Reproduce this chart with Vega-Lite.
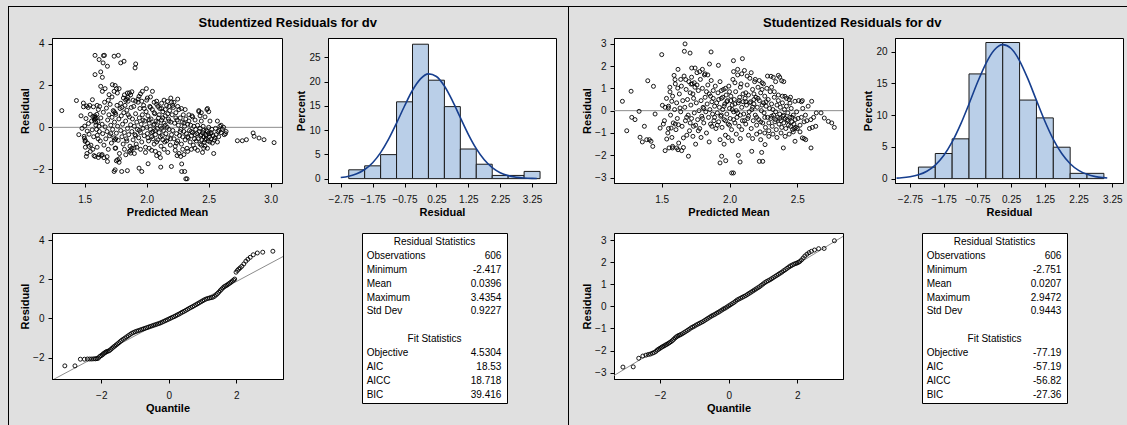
{
  "$schema": "https://vega.github.io/schema/vega-lite/v6.json",
  "background": "#e0e0e0",
  "padding": {"left": 8, "top": 6, "right": 0, "bottom": 0},
  "config": {
    "font": "Liberation Sans",
    "view": {"stroke": "#000", "strokeWidth": 1, "fill": "#fff"},
    "axis": {"grid": false, "domainColor": "#000", "tickColor": "#000", "tickSize": 4, "labelFont": "Liberation Sans", "labelFontSize": 10, "labelColor": "#111", "titleFont": "Liberation Sans", "titleFontSize": 11, "titleFontWeight": "bold", "titleColor": "#000", "labelPadding": 4, "titlePadding": 2, "labelOverlap": false},
    "axisX": {"labelPadding": 7, "titlePadding": 2},
    "title": {"font": "Liberation Sans", "fontSize": 13, "fontWeight": "bold", "color": "#000", "anchor": "middle", "offset": 8}
  },
  "datasets": {
    "fitL": [
      {"m":1.583,"r":3.44},{"m":1.616,"r":3.24},{"m":1.651,"r":3.43},{"m":1.659,"r":3.44},{"m":1.648,"r":3.08},{"m":1.683,"r":2.92},{"m":1.737,"r":3.40},{"m":1.771,"r":3.44},{"m":1.790,"r":3.08},{"m":1.817,"r":3.16},{"m":1.911,"r":3.03},{"m":1.906,"r":2.84},{"m":1.629,"r":2.65},{"m":1.583,"r":2.52},{"m":1.642,"r":2.39},{"m":1.629,"r":1.96},{"m":1.642,"r":1.72},{"m":1.664,"r":1.85},{"m":1.723,"r":2.04},{"m":1.745,"r":2.0},{"m":1.756,"r":1.85},{"m":1.777,"r":1.85},{"m":1.737,"r":1.72},{"m":1.696,"r":1.56},{"m":1.763,"r":1.64},{"m":1.844,"r":1.64},{"m":1.849,"r":1.44},{"m":1.812,"r":1.40},{"m":1.965,"r":1.72},{"m":1.997,"r":1.85},{"m":2.046,"r":1.72},{"m":1.938,"r":1.48},{"m":2.005,"r":1.40},{"m":1.433,"r":1.28},{"m":1.489,"r":1.16},{"m":1.562,"r":1.32},{"m":2.194,"r":1.40},{"m":2.167,"r":1.24},{"m":1.315,"r":0.80},
      {"m":2.731,"r":-0.64},{"m":2.771,"r":-0.64},{"m":2.804,"r":-0.59},{"m":2.858,"r":-0.27},{"m":2.866,"r":-0.43},{"m":2.906,"r":-0.51},{"m":2.946,"r":-0.59},{"m":3.027,"r":-0.73},
      {"m":2.315,"r":-2.46},{"m":2.325,"r":-2.46},{"m":2.282,"r":-2.11},{"m":2.306,"r":-2.11},{"m":2.282,"r":-1.75},{"m":2.274,"r":-1.39},{"m":2.199,"r":-1.87},{"m":2.113,"r":-1.90},{"m":2.011,"r":-1.74},{"m":1.960,"r":-2.11},{"m":1.938,"r":-1.95},{"m":1.844,"r":-2.07},{"m":1.798,"r":-2.11},{"m":1.737,"r":-2.11},{"m":1.745,"r":-2.03},{"m":1.777,"r":-1.67},{"m":1.831,"r":-1.31},{"m":1.871,"r":-1.23},{"m":1.898,"r":-0.99},{"m":1.750,"r":-0.99},{"m":1.683,"r":-1.63},{"m":1.616,"r":-1.31},{"m":1.610,"r":-1.44},{"m":1.583,"r":-1.39},{"m":1.513,"r":-1.39},{"m":1.535,"r":-0.91},{"m":1.503,"r":-0.67},{"m":1.495,"r":-0.43},
      {"m":1.452,"r":-0.35},{"m":1.47,"r":0.55},{"m":1.478,"r":-0.05},{"m":1.49,"r":0.98},{"m":1.497,"r":-0.52},{"m":1.50,"r":0.06},{"m":1.505,"r":-0.62},{"m":1.51,"r":0.42},{"m":1.515,"r":1.02},{"m":1.52,"r":-0.18},{"m":1.522,"r":-0.75},{"m":1.528,"r":0.95},{"m":1.53,"r":0.18},{"m":1.535,"r":-0.33},{"m":1.54,"r":1.05},{"m":1.545,"r":0.62},{"m":1.55,"r":-0.85},{"m":1.555,"r":0.30},{"m":1.56,"r":-0.12},{"m":1.565,"r":0.52},{"m":1.57,"r":0.98},{"m":1.572,"r":-0.45},{"m":1.578,"r":0.35},{"m":1.58,"r":0.48},{"m":1.582,"r":0.55},{"m":1.585,"r":0.40},{"m":1.588,"r":0.25},{"m":1.59,"r":0.10},{"m":1.592,"r":0.45},{"m":1.595,"r":-0.10},{"m":1.598,"r":0.62},{"m":1.60,"r":1.05},{"m":1.602,"r":-0.38},{"m":1.605,"r":0.28},{"m":1.608,"r":-0.55},{"m":1.61,"r":0.85},{"m":1.615,"r":0.05},{"m":1.62,"r":1.00},{"m":1.618,"r":-0.20},{"m":1.60,"r":-0.95},{"m":1.575,"r":-1.35},{"m":1.565,"r":-1.05},{"m":1.545,"r":-1.15},{"m":1.505,"r":-0.95},{"m":1.518,"r":-1.25},
      {"m":1.625,"r":-0.65},{"m":1.63,"r":0.45},{"m":1.635,"r":-1.35},{"m":1.64,"r":0.15},{"m":1.645,"r":-0.30},{"m":1.65,"r":0.72},{"m":1.655,"r":-0.85},{"m":1.66,"r":1.20},{"m":1.665,"r":0.02},{"m":1.67,"r":-0.55},{"m":1.675,"r":0.92},{"m":1.68,"r":-0.20},{"m":1.685,"r":0.35},{"m":1.69,"r":-1.05},{"m":1.695,"r":0.60},{"m":1.70,"r":-0.40},{"m":1.705,"r":1.10},{"m":1.71,"r":0.10},{"m":1.715,"r":-0.75},{"m":1.72,"r":0.48},{"m":1.725,"r":-0.10},{"m":1.73,"r":0.80},{"m":1.735,"r":-0.50},{"m":1.74,"r":0.25},{"m":1.745,"r":-1.00},{"m":1.75,"r":0.62},{"m":1.755,"r":-0.28},{"m":1.76,"r":1.05},{"m":1.765,"r":0.05},{"m":1.77,"r":-0.62},{"m":1.775,"r":0.40},{"m":1.78,"r":-1.25},{"m":1.785,"r":0.90},{"m":1.79,"r":-0.15},{"m":1.795,"r":0.55},{"m":1.80,"r":-0.45},{"m":1.69,"r":1.30},{"m":1.72,"r":1.45},{"m":1.745,"r":0.70},{"m":1.735,"r":0.75},{"m":1.75,"r":-0.55},{"m":1.755,"r":-1.60},{"m":1.765,"r":-1.55},{"m":1.78,"r":-1.50},{"m":1.74,"r":-0.60},{"m":1.71,"r":-0.30},{"m":1.68,"r":-1.40},{"m":1.655,"r":-1.45},{"m":1.64,"r":-1.30},{"m":1.79,"r":1.15},{"m":1.80,"r":0.95},
      {"m":1.805,"r":0.15},{"m":1.81,"r":-0.80},{"m":1.815,"r":0.70},{"m":1.82,"r":-0.25},{"m":1.825,"r":1.05},{"m":1.83,"r":0.30},{"m":1.835,"r":-0.55},{"m":1.84,"r":0.82},{"m":1.845,"r":-0.05},{"m":1.85,"r":1.25},{"m":1.855,"r":-0.35},{"m":1.86,"r":0.50},{"m":1.865,"r":-0.90},{"m":1.87,"r":0.12},{"m":1.875,"r":0.95},{"m":1.88,"r":-0.20},{"m":1.885,"r":0.40},{"m":1.89,"r":-0.60},{"m":1.895,"r":1.00},{"m":1.90,"r":0.05},{"m":1.905,"r":-0.35},{"m":1.91,"r":0.65},{"m":1.915,"r":-0.80},{"m":1.92,"r":0.25},{"m":1.925,"r":-0.10},{"m":1.93,"r":1.20},{"m":1.935,"r":-0.50},{"m":1.94,"r":0.45},{"m":1.945,"r":0.90},{"m":1.95,"r":-0.25},{"m":1.955,"r":0.15},{"m":1.96,"r":-0.70},{"m":1.965,"r":0.60},{"m":1.97,"r":-0.05},{"m":1.975,"r":1.05},{"m":1.98,"r":-0.40},{"m":1.985,"r":0.30},{"m":1.99,"r":-0.95},{"m":1.995,"r":0.75},{"m":2.00,"r":0.00},{"m":1.82,"r":-1.05},{"m":1.86,"r":-1.15},{"m":1.88,"r":-1.00},{"m":1.87,"r":-1.10},{"m":1.90,"r":-1.25},{"m":1.92,"r":-0.95},{"m":1.85,"r":0.60},{"m":1.87,"r":1.55},{"m":1.89,"r":1.30},{"m":1.93,"r":1.35},{"m":1.96,"r":1.25},{"m":1.98,"r":0.90},{"m":1.84,"r":-0.65},{"m":1.91,"r":-0.40},{"m":1.94,"r":-0.15},{"m":1.97,"r":0.35},{"m":1.83,"r":1.30},{"m":1.86,"r":1.65},{"m":1.95,"r":-1.05},{"m":1.99,"r":-1.20},
      {"m":2.005,"r":-0.30},{"m":2.01,"r":0.55},{"m":2.015,"r":-0.65},{"m":2.02,"r":0.20},{"m":2.025,"r":1.00},{"m":2.03,"r":-0.10},{"m":2.035,"r":0.40},{"m":2.04,"r":-0.45},{"m":2.045,"r":0.85},{"m":2.05,"r":-0.20},{"m":2.055,"r":0.10},{"m":2.06,"r":-0.80},{"m":2.065,"r":0.65},{"m":2.07,"r":-0.35},{"m":2.075,"r":0.30},{"m":2.08,"r":1.10},{"m":2.085,"r":-0.05},{"m":2.09,"r":-0.60},{"m":2.095,"r":0.45},{"m":2.10,"r":-0.25},{"m":2.105,"r":0.90},{"m":2.11,"r":0.05},{"m":2.115,"r":-0.90},{"m":2.12,"r":0.35},{"m":2.125,"r":-0.40},{"m":2.13,"r":0.75},{"m":2.135,"r":-0.15},{"m":2.14,"r":0.20},{"m":2.145,"r":-0.70},{"m":2.15,"r":0.55},{"m":2.155,"r":-0.30},{"m":2.16,"r":1.05},{"m":2.165,"r":0.00},{"m":2.17,"r":-0.50},{"m":2.175,"r":0.40},{"m":2.18,"r":-0.10},{"m":2.185,"r":0.80},{"m":2.19,"r":-0.85},{"m":2.195,"r":0.25},{"m":2.20,"r":-0.35},{"m":2.02,"r":-1.00},{"m":2.04,"r":-1.10},{"m":2.07,"r":-1.15},{"m":2.10,"r":-1.25},{"m":2.14,"r":-1.05},{"m":2.17,"r":-1.20},{"m":2.03,"r":0.95},{"m":2.06,"r":0.70},{"m":2.09,"r":1.00},{"m":2.12,"r":0.90},{"m":2.15,"r":0.85},{"m":2.18,"r":1.00},{"m":2.01,"r":-0.50},{"m":2.05,"r":-0.55},{"m":2.08,"r":-0.70},{"m":2.11,"r":-0.45},{"m":2.13,"r":-0.60},{"m":2.16,"r":-0.65},{"m":2.19,"r":-0.55},{"m":2.02,"r":0.35},{"m":2.06,"r":0.15},{"m":2.09,"r":0.25},{"m":2.12,"r":-0.05},{"m":2.15,"r":0.10},{"m":2.18,"r":0.30},{"m":2.04,"r":-0.25},{"m":2.07,"r":-0.15},{"m":2.10,"r":0.60},{"m":2.13,"r":0.45},{"m":2.17,"r":0.65},{"m":2.11,"r":-1.45},{"m":2.08,"r":-1.35},{"m":2.14,"r":1.30},{"m":2.06,"r":1.20},
      {"m":2.205,"r":0.60},{"m":2.21,"r":-0.15},{"m":2.215,"r":0.95},{"m":2.22,"r":-0.55},{"m":2.225,"r":0.20},{"m":2.23,"r":-0.90},{"m":2.235,"r":0.70},{"m":2.24,"r":-0.30},{"m":2.245,"r":0.35},{"m":2.25,"r":-0.65},{"m":2.255,"r":0.10},{"m":2.26,"r":0.85},{"m":2.265,"r":-0.40},{"m":2.27,"r":0.45},{"m":2.275,"r":-0.10},{"m":2.28,"r":-0.80},{"m":2.285,"r":0.25},{"m":2.29,"r":-0.45},{"m":2.295,"r":0.60},{"m":2.30,"r":-0.20},{"m":2.305,"r":0.05},{"m":2.31,"r":-0.60},{"m":2.315,"r":0.40},{"m":2.32,"r":-0.30},{"m":2.325,"r":-1.00},{"m":2.33,"r":0.15},{"m":2.335,"r":-0.50},{"m":2.34,"r":0.30},{"m":2.345,"r":-0.15},{"m":2.35,"r":-0.70},{"m":2.355,"r":0.10},{"m":2.36,"r":-0.40},{"m":2.365,"r":0.55},{"m":2.37,"r":-0.25},{"m":2.375,"r":-0.85},{"m":2.38,"r":0.05},{"m":2.385,"r":-0.55},{"m":2.39,"r":0.35},{"m":2.395,"r":-0.10},{"m":2.40,"r":-0.65},{"m":2.22,"r":1.20},{"m":2.25,"r":1.00},{"m":2.28,"r":0.90},{"m":2.31,"r":0.85},{"m":2.34,"r":0.60},{"m":2.37,"r":0.50},{"m":2.23,"r":-1.10},{"m":2.26,"r":-1.25},{"m":2.29,"r":-1.05},{"m":2.33,"r":-1.15},{"m":2.36,"r":-1.05},{"m":2.39,"r":-1.00},{"m":2.24,"r":-0.75},{"m":2.27,"r":-0.20},{"m":2.30,"r":0.20},{"m":2.33,"r":-0.45},{"m":2.36,"r":-0.20},{"m":2.39,"r":-0.35},{"m":2.245,"r":-1.35},{"m":2.30,"r":-1.30},{"m":2.21,"r":1.05},{"m":2.235,"r":0.45},
      {"m":2.405,"r":-0.30},{"m":2.41,"r":0.10},{"m":2.415,"r":-0.55},{"m":2.42,"r":0.75},{"m":2.425,"r":-0.20},{"m":2.43,"r":-0.80},{"m":2.435,"r":-0.40},{"m":2.44,"r":0.30},{"m":2.445,"r":-0.60},{"m":2.45,"r":-0.25},{"m":2.455,"r":0.05},{"m":2.46,"r":-0.45},{"m":2.465,"r":-0.70},{"m":2.47,"r":0.50},{"m":2.475,"r":-0.35},{"m":2.48,"r":-0.55},{"m":2.485,"r":0.85},{"m":2.49,"r":-0.20},{"m":2.495,"r":-0.65},{"m":2.50,"r":0.00},{"m":2.505,"r":-0.45},{"m":2.51,"r":0.30},{"m":2.515,"r":-0.30},{"m":2.52,"r":-0.55},{"m":2.525,"r":-0.10},{"m":2.53,"r":-0.75},{"m":2.535,"r":-0.40},{"m":2.54,"r":-1.25},{"m":2.545,"r":-0.60},{"m":2.55,"r":-0.50},{"m":2.42,"r":0.80},{"m":2.44,"r":0.70},{"m":2.43,"r":0.55},{"m":2.49,"r":0.90},{"m":2.50,"r":0.75},{"m":2.46,"r":-1.00},{"m":2.45,"r":-1.20},{"m":2.47,"r":-0.90},{"m":2.49,"r":-1.00},{"m":2.41,"r":-1.10},{"m":2.44,"r":-0.35},{"m":2.46,"r":-0.15},{"m":2.48,"r":-0.40},{"m":2.50,"r":-0.30},{"m":2.52,"r":-0.25},{"m":2.43,"r":-0.05},{"m":2.47,"r":-0.60},{"m":2.51,"r":-0.70},{"m":2.44,"r":-0.85},{"m":2.48,"r":-0.15},
      {"m":2.555,"r":-0.05},{"m":2.56,"r":-0.35},{"m":2.57,"r":0.30},{"m":2.575,"r":-0.20},{"m":2.58,"r":-0.45},{"m":2.59,"r":0.05},{"m":2.60,"r":-0.25},{"m":2.61,"r":-0.10},{"m":2.62,"r":0.00},{"m":2.635,"r":-0.30},{"m":2.64,"r":-0.20},{"m":2.57,"r":-0.70},{"m":2.585,"r":-0.15},{"m":2.6,"r":0.10},{"m":2.625,"r":-0.35},
      {"m":1.82,"r":1.55},{"m":1.84,"r":1.35},{"m":1.88,"r":1.70},{"m":1.91,"r":1.25},{"m":1.95,"r":1.60},{"m":2.0,"r":1.30},{"m":2.03,"r":1.45},{"m":2.08,"r":1.25},{"m":2.12,"r":1.15},{"m":2.2,"r":1.2},{"m":2.25,"r":1.35}
    ],
    "fitR": [
      {"m":1.210,"r":0.42},{"m":1.242,"r":-0.90},{"m":1.274,"r":0.87},{"m":1.279,"r":-0.30},{"m":1.303,"r":-0.40},{"m":1.333,"r":-0.03},{"m":1.340,"r":-1.19},{"m":1.357,"r":-1.40},{"m":1.372,"r":-0.70},{"m":1.389,"r":-1.30},{"m":1.397,"r":1.34},{"m":1.409,"r":-1.30},{"m":1.421,"r":-1.37},{"m":1.434,"r":-1.60},{"m":1.439,"r":1.09},{"m":1.451,"r":-0.15},{"m":1.488,"r":-0.78},{"m":1.500,"r":2.51},{"m":1.505,"r":0.24},{"m":1.512,"r":-0.60},{"m":1.525,"r":0.15},{"m":1.525,"r":-1.79},{"m":1.537,"r":-1.27},{"m":1.549,"r":0.12},{"m":1.554,"r":-1.67},{"m":1.561,"r":0.84},{"m":1.569,"r":-0.78},{"m":1.574,"r":0.42},{"m":1.579,"r":-1.67},{"m":1.591,"r":1.58},{"m":1.598,"r":1.39},{"m":1.611,"r":-1.67},{"m":1.618,"r":1.01},{"m":1.623,"r":-0.63},{"m":1.635,"r":0.12},{"m":1.647,"r":-1.79},{"m":1.660,"r":-1.22},{"m":1.667,"r":2.66},{"m":1.672,"r":2.99},{"m":1.677,"r":1.39},{"m":1.684,"r":-0.30},{"m":1.697,"r":-2.04},{"m":1.709,"r":2.58},{"m":1.716,"r":1.19},{"m":1.721,"r":1.91},{"m":1.734,"r":-0.70},{"m":1.746,"r":1.91},{"m":1.864,"r":2.63},{"m":1.852,"r":2.09},{"m":1.918,"r":2.03},{"m":2.029,"r":2.24},{"m":2.095,"r":2.33},{"m":1.942,"r":-2.04},{"m":1.930,"r":-2.34},{"m":1.972,"r":-2.24},{"m":2.016,"r":-2.79},{"m":2.029,"r":-2.79},{"m":2.065,"r":-2.00},{"m":2.078,"r":-2.30},{"m":2.164,"r":-1.82},{"m":2.220,"r":-2.27},{"m":2.245,"r":-2.27},{"m":2.237,"r":-1.87},{"m":2.262,"r":-1.52},{"m":2.397,"r":-1.67},{"m":2.483,"r":-1.37},{"m":2.537,"r":-1.22},{"m":2.562,"r":-1.30},{"m":2.601,"r":-1.67},{"m":2.606,"r":0.42},{"m":2.611,"r":-0.75},{"m":2.636,"r":-0.70},{"m":2.675,"r":-0.10},{"m":2.699,"r":-0.33},{"m":2.729,"r":-0.48},{"m":2.754,"r":-0.55},{"m":2.773,"r":-0.75},{"m":2.483,"r":0.42},{"m":2.537,"r":0.45},{"m":2.446,"r":0.34},{"m":2.409,"r":0.64},{"m":2.385,"r":1.34},{"m":2.360,"r":1.58},{"m":2.323,"r":1.49},{"m":2.306,"r":1.54},
      {"m":1.52,"r":-0.45},{"m":1.535,"r":0.55},{"m":1.545,"r":-1.00},{"m":1.55,"r":0.20},{"m":1.56,"r":1.05},{"m":1.565,"r":-0.20},{"m":1.575,"r":-1.20},{"m":1.58,"r":0.65},{"m":1.585,"r":-0.55},{"m":1.595,"r":0.05},{"m":1.60,"r":1.20},{"m":1.605,"r":-0.85},{"m":1.61,"r":0.35},{"m":1.615,"r":-0.35},{"m":1.62,"r":1.85},{"m":1.625,"r":-1.45},{"m":1.63,"r":0.75},{"m":1.64,"r":-0.05},{"m":1.645,"r":1.10},{"m":1.65,"r":-0.70},{"m":1.655,"r":0.45},{"m":1.66,"r":-1.65},{"m":1.665,"r":1.55},{"m":1.67,"r":0.15},{"m":1.675,"r":-0.45},{"m":1.68,"r":0.95},{"m":1.685,"r":-1.10},{"m":1.69,"r":0.50},{"m":1.695,"r":-0.20},{"m":1.70,"r":1.30},{"m":1.62,"r":-1.75},{"m":1.58,"r":-1.60},{"m":1.55,"r":-0.80},{"m":1.64,"r":1.40},{"m":1.60,"r":-0.60},
      {"m":1.705,"r":-0.90},{"m":1.71,"r":0.80},{"m":1.715,"r":0.25},{"m":1.72,"r":-0.35},{"m":1.725,"r":1.20},{"m":1.73,"r":-1.15},{"m":1.735,"r":0.55},{"m":1.74,"r":-0.10},{"m":1.745,"r":1.05},{"m":1.75,"r":-0.65},{"m":1.755,"r":0.35},{"m":1.76,"r":1.70},{"m":1.765,"r":-0.40},{"m":1.77,"r":0.90},{"m":1.775,"r":0.00},{"m":1.78,"r":-0.80},{"m":1.785,"r":1.40},{"m":1.79,"r":0.45},{"m":1.795,"r":-0.25},{"m":1.80,"r":1.00},{"m":1.805,"r":0.15},{"m":1.81,"r":-0.55},{"m":1.815,"r":1.60},{"m":1.82,"r":0.60},{"m":1.825,"r":-0.05},{"m":1.83,"r":-1.00},{"m":1.835,"r":0.30},{"m":1.84,"r":1.15},{"m":1.845,"r":-0.30},{"m":1.85,"r":0.75},{"m":1.855,"r":0.05},{"m":1.86,"r":-0.60},{"m":1.865,"r":1.35},{"m":1.87,"r":0.40},{"m":1.875,"r":-0.15},{"m":1.88,"r":0.90},{"m":1.885,"r":-0.45},{"m":1.89,"r":0.20},{"m":1.895,"r":1.10},{"m":1.90,"r":-0.80},{"m":1.72,"r":1.50},{"m":1.74,"r":1.25},{"m":1.76,"r":1.15},{"m":1.78,"r":1.75},{"m":1.80,"r":1.85},{"m":1.82,"r":1.65},{"m":1.84,"r":1.60},{"m":1.75,"r":-1.50},{"m":1.79,"r":-1.20},{"m":1.73,"r":0.75},{"m":1.77,"r":-0.90},{"m":1.81,"r":0.10},{"m":1.83,"r":0.85},{"m":1.86,"r":0.65},{"m":1.88,"r":0.55},{"m":1.85,"r":-1.40},{"m":1.87,"r":-0.70},{"m":1.89,"r":-0.30},{"m":1.71,"r":-0.55},{"m":1.80,"r":-0.35},
      {"m":1.905,"r":0.35},{"m":1.91,"r":-0.10},{"m":1.915,"r":0.80},{"m":1.92,"r":-0.50},{"m":1.925,"r":0.15},{"m":1.93,"r":1.30},{"m":1.935,"r":-0.25},{"m":1.94,"r":0.55},{"m":1.945,"r":-0.75},{"m":1.95,"r":0.05},{"m":1.955,"r":0.95},{"m":1.96,"r":-0.40},{"m":1.965,"r":0.30},{"m":1.97,"r":-1.10},{"m":1.975,"r":0.70},{"m":1.98,"r":-0.15},{"m":1.985,"r":0.45},{"m":1.99,"r":-0.60},{"m":1.995,"r":1.10},{"m":2.00,"r":0.10},{"m":2.005,"r":-0.35},{"m":2.01,"r":0.65},{"m":2.015,"r":-0.85},{"m":2.02,"r":0.25},{"m":2.025,"r":1.40},{"m":2.03,"r":-0.05},{"m":2.035,"r":0.50},{"m":2.04,"r":-0.55},{"m":2.045,"r":0.85},{"m":2.05,"r":0.00},{"m":2.055,"r":-0.30},{"m":2.06,"r":1.60},{"m":2.065,"r":0.35},{"m":2.07,"r":-0.70},{"m":2.075,"r":0.60},{"m":2.08,"r":-0.20},{"m":2.085,"r":1.20},{"m":2.09,"r":0.15},{"m":2.095,"r":-0.45},{"m":2.10,"r":0.75},{"m":1.92,"r":0.50},{"m":1.95,"r":0.60},{"m":1.98,"r":0.40},{"m":2.01,"r":0.45},{"m":2.04,"r":0.30},{"m":2.07,"r":0.45},{"m":2.10,"r":0.40},{"m":1.93,"r":-1.30},{"m":1.96,"r":-1.50},{"m":1.99,"r":-1.20},{"m":2.02,"r":-1.35},{"m":2.05,"r":-1.05},{"m":2.08,"r":-1.25},{"m":1.94,"r":0.90},{"m":1.97,"r":1.00},{"m":2.00,"r":0.85},{"m":2.03,"r":1.75},{"m":2.06,"r":1.85},{"m":2.09,"r":1.65},{"m":1.91,"r":-0.65},{"m":1.94,"r":-0.20},{"m":1.97,"r":-0.45},{"m":2.00,"r":-0.65},{"m":2.03,"r":-0.40},{"m":2.06,"r":-0.10},{"m":2.09,"r":-0.85},{"m":2.04,"r":1.25},{"m":2.08,"r":1.05},{"m":1.96,"r":0.20},{"m":2.02,"r":0.05},
      {"m":2.105,"r":-0.15},{"m":2.11,"r":1.80},{"m":2.115,"r":0.55},{"m":2.12,"r":-0.60},{"m":2.125,"r":0.25},{"m":2.13,"r":1.15},{"m":2.135,"r":-0.35},{"m":2.14,"r":0.70},{"m":2.145,"r":-0.05},{"m":2.15,"r":1.45},{"m":2.155,"r":0.40},{"m":2.16,"r":-0.80},{"m":2.165,"r":0.05},{"m":2.17,"r":0.95},{"m":2.175,"r":-0.45},{"m":2.18,"r":0.30},{"m":2.185,"r":1.30},{"m":2.19,"r":-0.20},{"m":2.195,"r":0.60},{"m":2.20,"r":-0.65},{"m":2.205,"r":0.15},{"m":2.21,"r":1.05},{"m":2.215,"r":-0.40},{"m":2.22,"r":0.45},{"m":2.225,"r":-0.95},{"m":2.23,"r":0.80},{"m":2.235,"r":0.00},{"m":2.24,"r":1.25},{"m":2.245,"r":-0.55},{"m":2.25,"r":0.35},{"m":2.255,"r":-0.10},{"m":2.26,"r":0.65},{"m":2.265,"r":-0.75},{"m":2.27,"r":0.20},{"m":2.275,"r":1.00},{"m":2.28,"r":-0.30},{"m":2.285,"r":0.50},{"m":2.29,"r":-0.90},{"m":2.295,"r":0.10},{"m":2.30,"r":0.85},{"m":2.12,"r":0.40},{"m":2.15,"r":0.35},{"m":2.18,"r":0.50},{"m":2.21,"r":0.55},{"m":2.24,"r":0.25},{"m":2.27,"r":0.40},{"m":2.14,"r":-1.10},{"m":2.17,"r":-1.25},{"m":2.20,"r":-1.05},{"m":2.23,"r":-1.30},{"m":2.26,"r":-1.00},{"m":2.29,"r":-1.15},{"m":2.13,"r":1.55},{"m":2.16,"r":1.70},{"m":2.19,"r":1.40},{"m":2.22,"r":1.35},{"m":2.25,"r":1.20},{"m":2.28,"r":1.55},{"m":2.11,"r":-0.45},{"m":2.14,"r":-0.25},{"m":2.17,"r":0.15},{"m":2.20,"r":-0.30},{"m":2.23,"r":-0.50},{"m":2.26,"r":-0.30},{"m":2.29,"r":-0.55},{"m":2.12,"r":0.80},{"m":2.18,"r":0.75},{"m":2.24,"r":0.95},
      {"m":2.305,"r":-0.35},{"m":2.31,"r":0.30},{"m":2.315,"r":-0.70},{"m":2.32,"r":0.05},{"m":2.325,"r":-0.20},{"m":2.33,"r":0.60},{"m":2.335,"r":-0.50},{"m":2.34,"r":-0.05},{"m":2.345,"r":-0.85},{"m":2.35,"r":0.25},{"m":2.355,"r":-0.30},{"m":2.36,"r":0.45},{"m":2.365,"r":-0.60},{"m":2.37,"r":-0.15},{"m":2.375,"r":0.15},{"m":2.38,"r":-0.45},{"m":2.385,"r":-0.75},{"m":2.39,"r":0.35},{"m":2.395,"r":-0.25},{"m":2.40,"r":-0.55},{"m":2.405,"r":0.05},{"m":2.41,"r":-0.35},{"m":2.415,"r":-0.80},{"m":2.42,"r":0.20},{"m":2.425,"r":-0.40},{"m":2.43,"r":-0.10},{"m":2.435,"r":-0.65},{"m":2.44,"r":0.50},{"m":2.445,"r":-0.30},{"m":2.45,"r":-0.70},{"m":2.455,"r":0.10},{"m":2.46,"r":-0.50},{"m":2.465,"r":-0.85},{"m":2.47,"r":-0.20},{"m":2.475,"r":-0.60},{"m":2.48,"r":-0.80},{"m":2.485,"r":-0.40},{"m":2.49,"r":-0.75},{"m":2.495,"r":-0.05},{"m":2.50,"r":-0.80},{"m":2.32,"r":-1.05},{"m":2.35,"r":-1.20},{"m":2.38,"r":-1.00},{"m":2.41,"r":-1.15},{"m":2.44,"r":-1.05},{"m":2.47,"r":-0.95},{"m":2.33,"r":0.85},{"m":2.36,"r":0.70},{"m":2.39,"r":0.65},{"m":2.42,"r":0.55},{"m":2.45,"r":0.60},{"m":2.31,"r":1.05},{"m":2.34,"r":1.30},{"m":2.37,"r":1.50},{"m":2.40,"r":1.30},{"m":2.31,"r":-0.25},{"m":2.34,"r":-0.40},{"m":2.37,"r":-0.35},{"m":2.40,"r":-0.20},{"m":2.43,"r":-0.45},{"m":2.46,"r":-0.30},
      {"m":2.505,"r":-0.35},{"m":2.51,"r":0.45},{"m":2.52,"r":-0.65},{"m":2.53,"r":-0.30},{"m":2.54,"r":0.10},{"m":2.55,"r":-0.50},{"m":2.56,"r":-0.20},{"m":2.57,"r":-0.45},{"m":2.58,"r":0.20},{"m":2.59,"r":-0.80},{"m":2.60,"r":-0.40},{"m":2.62,"r":-0.30},{"m":2.64,"r":-0.10},{"m":2.52,"r":-0.95},{"m":2.55,"r":-1.25},{"m":2.53,"r":0.40}
    ],
    "histL": [
      {"lo":-2.5,"hi":-2,"pct":1.82},{"lo":-2,"hi":-1.5,"pct":2.64},{"lo":-1.5,"hi":-1,"pct":4.95},{"lo":-1,"hi":-0.5,"pct":15.84},{"lo":-0.5,"hi":0,"pct":27.72},{"lo":0,"hi":0.5,"pct":20.30},{"lo":0.5,"hi":1,"pct":14.85},{"lo":1,"hi":1.5,"pct":6.11},{"lo":1.5,"hi":2,"pct":2.97},{"lo":2,"hi":2.5,"pct":0.66},{"lo":2.5,"hi":3,"pct":0.66},{"lo":3,"hi":3.5,"pct":1.49}
    ],
    "histR": [
      {"lo":-2.5,"hi":-2,"pct":1.82},{"lo":-2,"hi":-1.5,"pct":3.96},{"lo":-1.5,"hi":-1,"pct":6.27},{"lo":-1,"hi":-0.5,"pct":16.50},{"lo":-0.5,"hi":0,"pct":21.45},{"lo":0,"hi":0.5,"pct":21.45},{"lo":0.5,"hi":1,"pct":12.38},{"lo":1,"hi":1.5,"pct":9.57},{"lo":1.5,"hi":2,"pct":4.95},{"lo":2,"hi":2.5,"pct":0.83},{"lo":2.5,"hi":3,"pct":0.83}
    ],
    "densL": [
      {"x":-2.75,"d":0.22},{"x":-2.5,"d":0.49},{"x":-2.25,"d":0.99},{"x":-2.0,"d":1.88},{"x":-1.75,"d":3.29},{"x":-1.5,"d":5.37},{"x":-1.25,"d":8.14},{"x":-1.0,"d":11.46},{"x":-0.75,"d":14.98},{"x":-0.5,"d":18.22},{"x":-0.25,"d":20.58},{"x":0.0,"d":21.60},{"x":0.25,"d":21.07},{"x":0.5,"d":19.09},{"x":0.75,"d":16.08},{"x":1.0,"d":12.59},{"x":1.25,"d":9.15},{"x":1.5,"d":6.18},{"x":1.75,"d":3.88},{"x":2.0,"d":2.27},{"x":2.25,"d":1.23},{"x":2.5,"d":0.62},{"x":2.75,"d":0.29},{"x":3.0,"d":0.13},{"x":3.25,"d":0.05},{"x":3.4,"d":0.03}
    ],
    "densR": [
      {"x":-3.15,"d":0.08},{"x":-3.0,"d":0.13},{"x":-2.75,"d":0.29},{"x":-2.5,"d":0.60},{"x":-2.25,"d":1.17},{"x":-2.0,"d":2.14},{"x":-1.75,"d":3.64},{"x":-1.5,"d":5.78},{"x":-1.25,"d":8.54},{"x":-1.0,"d":11.77},{"x":-0.75,"d":15.14},{"x":-0.5,"d":18.14},{"x":-0.25,"d":20.27},{"x":0.0,"d":21.11},{"x":0.25,"d":20.51},{"x":0.5,"d":18.57},{"x":0.75,"d":15.67},{"x":1.0,"d":12.33},{"x":1.25,"d":9.05},{"x":1.5,"d":6.19},{"x":1.75,"d":3.95},{"x":2.0,"d":2.35},{"x":2.25,"d":1.30},{"x":2.5,"d":0.67},{"x":2.75,"d":0.32},{"x":3.0,"d":0.15},{"x":3.1,"d":0.10}
    ],
    "qqL": [
      {"q":-3.08,"r":-2.42},{"q":-2.78,"r":-2.42},{"q":-2.62,"r":-2.08},{"q":-2.50,"r":-2.08},{"q":-2.41,"r":-2.07},{"q":-2.34,"r":-2.07},{"q":-2.28,"r":-2.07},{"q":-2.22,"r":-2.06},{"q":-2.17,"r":-2.06},{"q":-2.13,"r":-2.05},{"q":-2.09,"r":-2.03},{"q":-2.05,"r":-1.95},{"q":-2.01,"r":-1.90},{"q":-1.97,"r":-1.86},{"q":-1.94,"r":-1.80},{"q":-1.90,"r":-1.76},{"q":-1.87,"r":-1.72},{"q":-1.84,"r":-1.69},{"q":-1.80,"r":-1.67},{"q":-1.76,"r":-1.64},{"q":-1.72,"r":-1.58},{"q":-1.68,"r":-1.52},{"q":-1.64,"r":-1.46},{"q":-1.60,"r":-1.41},{"q":-1.56,"r":-1.35},{"q":-1.52,"r":-1.30},{"q":-1.48,"r":-1.24},{"q":-1.44,"r":-1.18},{"q":-1.40,"r":-1.12},{"q":-1.35,"r":-1.06},{"q":-1.30,"r":-1.00},{"q":-1.25,"r":-0.94},{"q":-1.20,"r":-0.88},{"q":-1.15,"r":-0.82},{"q":-1.10,"r":-0.76},{"q":-1.05,"r":-0.72},{"q":-1.00,"r":-0.68},{"q":-0.95,"r":-0.65},{"q":-0.90,"r":-0.62},{"q":-0.85,"r":-0.59},{"q":-0.80,"r":-0.56},{"q":-0.75,"r":-0.53},{"q":-0.70,"r":-0.50},{"q":-0.65,"r":-0.47},{"q":-0.60,"r":-0.44},{"q":-0.55,"r":-0.41},{"q":-0.50,"r":-0.38},{"q":-0.45,"r":-0.35},{"q":-0.40,"r":-0.32},{"q":-0.35,"r":-0.29},{"q":-0.30,"r":-0.26},{"q":-0.25,"r":-0.23},{"q":-0.20,"r":-0.19},{"q":-0.15,"r":-0.15},{"q":-0.10,"r":-0.11},{"q":-0.05,"r":-0.07},{"q":0.00,"r":-0.03},{"q":0.05,"r":0.01},{"q":0.10,"r":0.05},{"q":0.15,"r":0.09},{"q":0.20,"r":0.13},{"q":0.25,"r":0.18},{"q":0.30,"r":0.22},{"q":0.35,"r":0.27},{"q":0.40,"r":0.32},{"q":0.45,"r":0.36},{"q":0.50,"r":0.41},{"q":0.55,"r":0.46},{"q":0.60,"r":0.51},{"q":0.65,"r":0.56},{"q":0.70,"r":0.60},{"q":0.75,"r":0.65},{"q":0.80,"r":0.70},{"q":0.85,"r":0.75},{"q":0.90,"r":0.80},{"q":0.95,"r":0.85},{"q":1.00,"r":0.90},{"q":1.05,"r":0.95},{"q":1.10,"r":0.99},{"q":1.15,"r":1.02},{"q":1.20,"r":1.04},{"q":1.25,"r":1.06},{"q":1.30,"r":1.08},{"q":1.35,"r":1.13},{"q":1.40,"r":1.20},{"q":1.44,"r":1.27},{"q":1.48,"r":1.34},{"q":1.52,"r":1.42},{"q":1.56,"r":1.49},{"q":1.60,"r":1.56},{"q":1.64,"r":1.62},{"q":1.68,"r":1.66},{"q":1.72,"r":1.70},{"q":1.76,"r":1.75},{"q":1.80,"r":1.80},{"q":1.84,"r":1.85},{"q":1.88,"r":1.91},{"q":1.92,"r":1.96},{"q":1.95,"r":2.01},{"q":1.99,"r":2.36},{"q":2.03,"r":2.45},{"q":2.07,"r":2.52},{"q":2.11,"r":2.58},{"q":2.16,"r":2.66},{"q":2.22,"r":2.78},{"q":2.28,"r":2.92},{"q":2.34,"r":3.02},{"q":2.41,"r":3.12},{"q":2.50,"r":3.25},{"q":2.62,"r":3.34},{"q":2.78,"r":3.38},{"q":3.08,"r":3.43}
    ],
    "qqR": [
      {"q":-3.08,"r":-2.75},{"q":-2.78,"r":-2.74},{"q":-2.62,"r":-2.35},{"q":-2.50,"r":-2.25},{"q":-2.41,"r":-2.21},{"q":-2.34,"r":-2.18},{"q":-2.28,"r":-2.16},{"q":-2.22,"r":-2.12},{"q":-2.17,"r":-2.09},{"q":-2.12,"r":-2.04},{"q":-2.08,"r":-1.98},{"q":-2.04,"r":-1.94},{"q":-2.00,"r":-1.90},{"q":-1.96,"r":-1.86},{"q":-1.92,"r":-1.82},{"q":-1.88,"r":-1.79},{"q":-1.84,"r":-1.75},{"q":-1.80,"r":-1.72},{"q":-1.76,"r":-1.68},{"q":-1.72,"r":-1.64},{"q":-1.68,"r":-1.60},{"q":-1.64,"r":-1.55},{"q":-1.60,"r":-1.49},{"q":-1.56,"r":-1.43},{"q":-1.52,"r":-1.38},{"q":-1.48,"r":-1.34},{"q":-1.44,"r":-1.31},{"q":-1.40,"r":-1.28},{"q":-1.35,"r":-1.24},{"q":-1.30,"r":-1.19},{"q":-1.25,"r":-1.14},{"q":-1.20,"r":-1.09},{"q":-1.15,"r":-1.04},{"q":-1.10,"r":-0.98},{"q":-1.05,"r":-0.94},{"q":-1.00,"r":-0.90},{"q":-0.95,"r":-0.85},{"q":-0.90,"r":-0.81},{"q":-0.85,"r":-0.77},{"q":-0.80,"r":-0.73},{"q":-0.75,"r":-0.69},{"q":-0.70,"r":-0.64},{"q":-0.65,"r":-0.59},{"q":-0.60,"r":-0.54},{"q":-0.55,"r":-0.49},{"q":-0.50,"r":-0.44},{"q":-0.45,"r":-0.40},{"q":-0.40,"r":-0.36},{"q":-0.35,"r":-0.31},{"q":-0.30,"r":-0.27},{"q":-0.25,"r":-0.22},{"q":-0.20,"r":-0.17},{"q":-0.15,"r":-0.12},{"q":-0.10,"r":-0.08},{"q":-0.05,"r":-0.03},{"q":0.00,"r":0.02},{"q":0.05,"r":0.07},{"q":0.10,"r":0.12},{"q":0.15,"r":0.17},{"q":0.20,"r":0.23},{"q":0.25,"r":0.29},{"q":0.30,"r":0.33},{"q":0.35,"r":0.37},{"q":0.40,"r":0.41},{"q":0.45,"r":0.45},{"q":0.50,"r":0.49},{"q":0.55,"r":0.54},{"q":0.60,"r":0.59},{"q":0.65,"r":0.64},{"q":0.70,"r":0.69},{"q":0.75,"r":0.74},{"q":0.80,"r":0.79},{"q":0.85,"r":0.84},{"q":0.90,"r":0.89},{"q":0.95,"r":0.95},{"q":1.00,"r":1.01},{"q":1.05,"r":1.07},{"q":1.10,"r":1.12},{"q":1.15,"r":1.16},{"q":1.20,"r":1.20},{"q":1.25,"r":1.25},{"q":1.30,"r":1.30},{"q":1.35,"r":1.35},{"q":1.40,"r":1.40},{"q":1.45,"r":1.45},{"q":1.50,"r":1.50},{"q":1.55,"r":1.55},{"q":1.60,"r":1.61},{"q":1.65,"r":1.66},{"q":1.70,"r":1.72},{"q":1.75,"r":1.78},{"q":1.80,"r":1.83},{"q":1.85,"r":1.87},{"q":1.90,"r":1.91},{"q":1.95,"r":1.94},{"q":1.99,"r":1.96},{"q":2.03,"r":1.99},{"q":2.07,"r":2.03},{"q":2.12,"r":2.10},{"q":2.17,"r":2.19},{"q":2.22,"r":2.28},{"q":2.28,"r":2.36},{"q":2.34,"r":2.43},{"q":2.41,"r":2.49},{"q":2.50,"r":2.55},{"q":2.62,"r":2.61},{"q":2.78,"r":2.62},{"q":3.08,"r":2.97}
    ],
    "tabL": [
      {"row":0,"label":"Residual Statistics","value":"","kind":"head"},
      {"row":1,"label":"Observations","value":"606","kind":"item"},
      {"row":2,"label":"Minimum","value":"-2.417","kind":"item"},
      {"row":3,"label":"Mean","value":"0.0396","kind":"item"},
      {"row":4,"label":"Maximum","value":"3.4354","kind":"item"},
      {"row":5,"label":"Std Dev","value":"0.9227","kind":"item"},
      {"row":7,"label":"Fit Statistics","value":"","kind":"head"},
      {"row":8,"label":"Objective","value":"4.5304","kind":"item"},
      {"row":9,"label":"AIC","value":"18.53","kind":"item"},
      {"row":10,"label":"AICC","value":"18.718","kind":"item"},
      {"row":11,"label":"BIC","value":"39.416","kind":"item"}
    ],
    "tabR": [
      {"row":0,"label":"Residual Statistics","value":"","kind":"head"},
      {"row":1,"label":"Observations","value":"606","kind":"item"},
      {"row":2,"label":"Minimum","value":"-2.751","kind":"item"},
      {"row":3,"label":"Mean","value":"0.0207","kind":"item"},
      {"row":4,"label":"Maximum","value":"2.9472","kind":"item"},
      {"row":5,"label":"Std Dev","value":"0.9443","kind":"item"},
      {"row":7,"label":"Fit Statistics","value":"","kind":"head"},
      {"row":8,"label":"Objective","value":"-77.19","kind":"item"},
      {"row":9,"label":"AIC","value":"-57.19","kind":"item"},
      {"row":10,"label":"AICC","value":"-56.82","kind":"item"},
      {"row":11,"label":"BIC","value":"-27.36","kind":"item"}
    ],
    "refL": [{"q":-3.46,"r":-3.153},{"q":3.38,"r":3.158}],
    "refR": [{"q":-3.34,"r":-3.133},{"q":3.33,"r":3.165}],
    "one": [{}]
  },
  "spacing": 0,
  "vconcat": [
    {"width": 1119, "height": 1, "view": {"fill": "#000", "stroke": null}, "data": {"name": "one"}, "mark": {"type": "point", "size": 0, "opacity": 0}},
    {
      "spacing": 11,
      "hconcat": [
        {
          "spacing": 10,
          "hconcat": [
            {"width": 1, "height": 418, "view": {"fill": "#000", "stroke": null}, "data": {"name": "one"}, "mark": {"type": "point", "size": 0, "opacity": 0}},
            {
              "spacing": 8,
              "vconcat": [
                {"width": 10, "height": 1, "view": {"fill": null, "stroke": null}, "data": {"name": "one"}, "mark": {"type": "point", "size": 0, "opacity": 0}},
                {
                  "title": "Studentized Residuals for dv",
                  "spacing": 14,
                  "vconcat": [
                    {
                      "spacing": 12,
                      "hconcat": [
                        {
                          "width": 230, "height": 145,
                          "layer": [
                            {"data": {"name": "one"}, "mark": {"type": "rule", "color": "#8c8c8c", "strokeWidth": 1}, "encoding": {"y": {"datum": 0, "type": "quantitative", "scale": {"domain": [-2.66, 4.27], "nice": false, "zero": false}, "axis": {"values": [-2, 0, 2, 4], "format": "d", "title": "Residual"}}}},
                            {"data": {"name": "fitL"}, "mark": {"type": "point", "shape": "circle", "size": 16, "filled": false, "color": "#000", "strokeWidth": 0.9, "opacity": 1},
                             "encoding": {
                               "x": {"field": "m", "type": "quantitative", "scale": {"domain": [1.236, 3.091], "nice": false, "zero": false}, "axis": {"values": [1.5, 2, 2.5, 3], "format": ".1f", "title": "Predicted Mean"}},
                               "y": {"field": "r", "type": "quantitative", "axis": {"values": [-2, 0, 2, 4], "format": "d", "title": "Residual"}}
                             }}
                          ]
                        },
                        {
                          "width": 228, "height": 145,
                          "layer": [
                            {"data": {"name": "histL"}, "mark": {"type": "bar", "fill": "#bacfe8", "stroke": "#1a1a1a", "strokeWidth": 1},
                             "encoding": {
                               "x": {"field": "lo", "type": "quantitative", "scale": {"domain": [-3.15, 4.0], "nice": false, "zero": false}, "axis": {"values": [-2.75, -1.75, -0.75, 0.25, 1.25, 2.25, 3.25], "format": ".2f", "title": "Residual"}},
                               "x2": {"field": "hi"},
                               "y": {"field": "pct", "type": "quantitative", "scale": {"domain": [-0.9, 29], "nice": false, "zero": false}, "axis": {"values": [0, 5, 10, 15, 20, 25], "format": "d", "title": "Percent"}},
                               "y2": {"datum": 0}
                             }},
                            {"data": {"name": "densL"}, "mark": {"type": "line", "color": "#163e8e", "strokeWidth": 1.6, "interpolate": "monotone"},
                             "encoding": {
                               "x": {"field": "x", "type": "quantitative", "axis": {"values": [-2.75, -1.75, -0.75, 0.25, 1.25, 2.25, 3.25], "format": ".2f", "title": "Residual"}},
                               "y": {"field": "d", "type": "quantitative", "axis": {"values": [0, 5, 10, 15, 20, 25], "format": "d", "title": "Percent"}}
                             }}
                          ]
                        }
                      ]
                    },
                    {
                      "spacing": 77,
                      "hconcat": [
                        {
                          "width": 231, "height": 146,
                          "layer": [
                            {"data": {"name": "refL"}, "mark": {"type": "line", "color": "#8c8c8c", "strokeWidth": 1, "clip": true},
                             "encoding": {
                               "x": {"field": "q", "type": "quantitative", "scale": {"domain": [-3.46, 3.38], "nice": false, "zero": false}, "axis": {"values": [-2, 0, 2], "format": "d", "title": "Quantile"}},
                               "y": {"field": "r", "type": "quantitative", "scale": {"domain": [-3.09, 4.36], "nice": false, "zero": false}, "axis": {"values": [-2, 0, 2, 4], "format": "d", "title": "Residual"}}
                             }},
                            {"data": {"name": "qqL"}, "mark": {"type": "point", "shape": "circle", "size": 16, "filled": false, "color": "#000", "strokeWidth": 0.9, "opacity": 1},
                             "encoding": {
                               "x": {"field": "q", "type": "quantitative", "axis": {"values": [-2, 0, 2], "format": "d", "title": "Quantile"}},
                               "y": {"field": "r", "type": "quantitative", "axis": {"values": [-2, 0, 2, 4], "format": "d", "title": "Residual"}}
                             }}
                          ]
                        },
                        {
                          "width": 145, "height": 170,
                          "data": {"name": "tabL"},
                          "encoding": {
                            "y": {"field": "row", "type": "quantitative", "scale": {"domain": [-0.63, 11.57], "reverse": true, "nice": false, "zero": false}, "axis": null}
                          },
                          "layer": [
                            {"transform": [{"filter": "datum.kind == 'head'"}], "mark": {"type": "text", "align": "center", "baseline": "middle", "fontSize": 10, "color": "#000"},
                             "encoding": {"x": {"datum": 0.5, "type": "quantitative", "scale": {"domain": [0, 1]}, "axis": null}, "text": {"field": "label"}}},
                            {"transform": [{"filter": "datum.kind == 'item'"}], "mark": {"type": "text", "align": "left", "baseline": "middle", "fontSize": 10, "color": "#000"},
                             "encoding": {"x": {"datum": 0.032, "type": "quantitative"}, "text": {"field": "label"}}},
                            {"transform": [{"filter": "datum.kind == 'item'"}], "mark": {"type": "text", "align": "right", "baseline": "middle", "fontSize": 10, "color": "#000"},
                             "encoding": {"x": {"datum": 0.961, "type": "quantitative"}, "text": {"field": "value"}}}
                          ]
                        }
                      ]
                    }
                  ]
                }
              ]
            }
          ]
        },
        {
          "spacing": 12,
          "hconcat": [
            {"width": 1, "height": 418, "view": {"fill": "#000", "stroke": null}, "data": {"name": "one"}, "mark": {"type": "point", "size": 0, "opacity": 0}},
            {
              "spacing": 8,
              "vconcat": [
                {"width": 10, "height": 1, "view": {"fill": null, "stroke": null}, "data": {"name": "one"}, "mark": {"type": "point", "size": 0, "opacity": 0}},
                {
                  "title": "Studentized Residuals for dv",
                  "spacing": 14,
                  "vconcat": [
                    {
                      "spacing": 18,
                      "hconcat": [
                        {
                          "width": 229, "height": 145,
                          "layer": [
                            {"data": {"name": "one"}, "mark": {"type": "rule", "color": "#8c8c8c", "strokeWidth": 1}, "encoding": {"y": {"datum": 0, "type": "quantitative", "scale": {"domain": [-3.24, 3.255], "nice": false, "zero": false}, "axis": {"values": [-3, -2, -1, 0, 1, 2, 3], "format": "d", "title": "Residual"}}}},
                            {"data": {"name": "fitR"}, "mark": {"type": "point", "shape": "circle", "size": 16, "filled": false, "color": "#000", "strokeWidth": 0.9, "opacity": 1},
                             "encoding": {
                               "x": {"field": "m", "type": "quantitative", "scale": {"domain": [1.148, 2.837], "nice": false, "zero": false}, "axis": {"values": [1.5, 2, 2.5], "format": ".1f", "title": "Predicted Mean"}},
                               "y": {"field": "r", "type": "quantitative", "axis": {"values": [-3, -2, -1, 0, 1, 2, 3], "format": "d", "title": "Residual"}}
                             }}
                          ]
                        },
                        {
                          "width": 228, "height": 145,
                          "layer": [
                            {"data": {"name": "histR"}, "mark": {"type": "bar", "fill": "#bacfe8", "stroke": "#1a1a1a", "strokeWidth": 1},
                             "encoding": {
                               "x": {"field": "lo", "type": "quantitative", "scale": {"domain": [-3.195, 3.567], "nice": false, "zero": false}, "axis": {"values": [-2.75, -1.75, -0.75, 0.25, 1.25, 2.25, 3.25], "format": ".2f", "title": "Residual"}},
                               "x2": {"field": "hi"},
                               "y": {"field": "pct", "type": "quantitative", "scale": {"domain": [-0.69, 22.16], "nice": false, "zero": false}, "axis": {"values": [0, 5, 10, 15, 20], "format": "d", "title": "Percent"}},
                               "y2": {"datum": 0}
                             }},
                            {"data": {"name": "densR"}, "mark": {"type": "line", "color": "#163e8e", "strokeWidth": 1.6, "interpolate": "monotone"},
                             "encoding": {
                               "x": {"field": "x", "type": "quantitative", "axis": {"values": [-2.75, -1.75, -0.75, 0.25, 1.25, 2.25, 3.25], "format": ".2f", "title": "Residual"}},
                               "y": {"field": "d", "type": "quantitative", "axis": {"values": [0, 5, 10, 15, 20], "format": "d", "title": "Percent"}}
                             }}
                          ]
                        }
                      ]
                    },
                    {
                      "spacing": 77,
                      "hconcat": [
                        {
                          "width": 229, "height": 146,
                          "layer": [
                            {"data": {"name": "refR"}, "mark": {"type": "line", "color": "#8c8c8c", "strokeWidth": 1, "clip": true},
                             "encoding": {
                               "x": {"field": "q", "type": "quantitative", "scale": {"domain": [-3.34, 3.33], "nice": false, "zero": false}, "axis": {"values": [-2, 0, 2], "format": "d", "title": "Quantile"}},
                               "y": {"field": "r", "type": "quantitative", "scale": {"domain": [-3.29, 3.32], "nice": false, "zero": false}, "axis": {"values": [-3, -2, -1, 0, 1, 2, 3], "format": "d", "title": "Residual"}}
                             }},
                            {"data": {"name": "qqR"}, "mark": {"type": "point", "shape": "circle", "size": 16, "filled": false, "color": "#000", "strokeWidth": 0.9, "opacity": 1},
                             "encoding": {
                               "x": {"field": "q", "type": "quantitative", "axis": {"values": [-2, 0, 2], "format": "d", "title": "Quantile"}},
                               "y": {"field": "r", "type": "quantitative", "axis": {"values": [-3, -2, -1, 0, 1, 2, 3], "format": "d", "title": "Residual"}}
                             }}
                          ]
                        },
                        {
                          "width": 145, "height": 170,
                          "data": {"name": "tabR"},
                          "encoding": {
                            "y": {"field": "row", "type": "quantitative", "scale": {"domain": [-0.63, 11.57], "reverse": true, "nice": false, "zero": false}, "axis": null}
                          },
                          "layer": [
                            {"transform": [{"filter": "datum.kind == 'head'"}], "mark": {"type": "text", "align": "center", "baseline": "middle", "fontSize": 10, "color": "#000"},
                             "encoding": {"x": {"datum": 0.5, "type": "quantitative", "scale": {"domain": [0, 1]}, "axis": null}, "text": {"field": "label"}}},
                            {"transform": [{"filter": "datum.kind == 'item'"}], "mark": {"type": "text", "align": "left", "baseline": "middle", "fontSize": 10, "color": "#000"},
                             "encoding": {"x": {"datum": 0.032, "type": "quantitative"}, "text": {"field": "label"}}},
                            {"transform": [{"filter": "datum.kind == 'item'"}], "mark": {"type": "text", "align": "right", "baseline": "middle", "fontSize": 10, "color": "#000"},
                             "encoding": {"x": {"datum": 0.961, "type": "quantitative"}, "text": {"field": "value"}}}
                          ]
                        }
                      ]
                    }
                  ]
                }
              ]
            }
          ]
        }
      ]
    }
  ]
}
